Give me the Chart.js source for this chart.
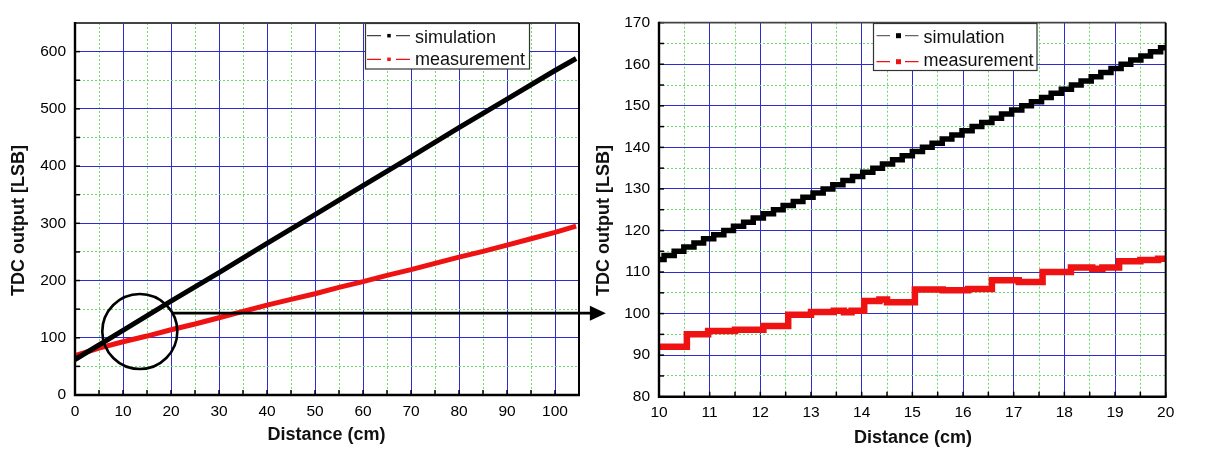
<!DOCTYPE html>
<html><head><meta charset="utf-8">
<script src="https://cdn.jsdelivr.net/npm/chart.js@4"></script>
<style>
html,body{margin:0;padding:0;background:#fff;width:1205px;height:451px;overflow:hidden}
#c1{position:absolute;left:0;top:0}
#c2{position:absolute;left:580px;top:0}
</style></head><body>
<canvas id="c1" width="620" height="451"></canvas>
<canvas id="c2" width="625" height="451"></canvas>
<script>
// ---------------- data ----------------
const seriesNames = ['simulation', 'measurement'];
const xTitle = 'Distance (cm)';
const yTitle = 'TDC output [LSB]';

// full range (left panel)
const simFullX  = [0, 10, 20, 30, 40, 50, 60, 70, 80, 90, 100, 104.4];
const simFullY  = [62, 113, 164, 214, 265, 315, 366, 416, 467, 517, 567, 588];
const measFullX = [0, 5, 10, 15, 20, 25, 30, 35, 40, 45, 50, 55, 60, 65, 70, 75, 80, 85, 90, 95, 100, 104.4];
const measFullY = [69, 82, 93, 103, 114, 124, 135, 146, 157, 167, 177, 188, 198, 209, 219, 230, 241, 251, 262, 273, 284, 295];

// zoomed range 10-20 cm (right panel), step start positions
const simZoomX = [10.00,10.10,10.30,10.49,10.69,10.88,11.08,11.28,11.47,11.67,11.86,12.06,12.26,12.45,12.65,12.84,13.04,13.24,13.43,13.63,13.82,14.02,14.22,14.41,14.61,14.80,15.00,15.20,15.39,15.59,15.78,15.98,16.18,16.37,16.57,16.76,16.96,17.16,17.35,17.55,17.74,17.94,18.14,18.33,18.53,18.72,18.92,19.12,19.31,19.51,19.70,19.90,20.00];
const simZoomY = [113,114,115,116,117,118,119,120,121,122,123,124,125,126,127,128,129,130,131,132,133,134,135,136,137,138,139,140,141,142,143,144,145,146,147,148,149,150,151,152,153,154,155,156,157,158,159,160,161,162,163,164,164];
const measZoomX = [10.00,10.55,10.97,11.50,12.06,12.55,13.00,13.45,13.65,13.80,14.05,14.35,14.50,15.05,15.60,16.10,16.57,17.10,17.57,18.13,18.55,18.75,19.08,19.50,19.85,20.00];
const measZoomY = [92.0,95.0,95.8,96.1,97.0,99.7,100.4,100.7,100.3,100.7,103.0,103.4,102.7,105.8,105.6,105.9,108.0,107.6,110.0,111.1,110.8,111.1,112.6,112.9,113.2,113.3];

// axis ranges & tick steps
const fullXRange = [0, 105], fullXStep = 5, fullXMajor = 10;
const fullYRange = [0, 650], fullYStep = 50, fullYMajor = 100;
const zoomXRange = [10, 20], zoomXStep = 0.5, zoomXMajor = 1;
const zoomYRange = [80, 170], zoomYStep = 5, zoomYMajor = 10;

// ---------------- styles ----------------
const FONT = "'Liberation Sans', Arial, sans-serif";
const BLUE = 'rgb(45,45,205)';
const GREEN = 'rgb(110,215,110)';
const RED = 'rgb(238,18,18)';

function isMajor(v, major) {
  const r = v / major;
  return Math.abs(r - Math.round(r)) < 1e-6;
}
function axis(range, step, major, pad, fit, horizontal) {
  return {
    type: 'linear', min: range[0], max: range[1],
    ticks: {
      stepSize: step, autoSkip: false, padding: pad, maxRotation: 0, minRotation: 0,
      color: '#000', font: {family: FONT, size: 15.5},
      callback: (v) => isMajor(v, major) ? String(Math.round(v)) : ''
    },
    grid: {
      drawTicks: false, lineWidth: 1,
      color: (c) => (c.tick && isMajor(c.tick.value, major)) ? BLUE : GREEN
    },
    border: {
      display: false,
      dash: (c) => (c.tick && !isMajor(c.tick.value, major)) ? [2, 2] : []
    },
    afterFit: (s) => { if (horizontal) s.height = fit; else s.width = fit; }
  };
}
function pts(xs, ys) { return xs.map((x, i) => ({x: x, y: ys[i]})); }

const decor = {
  id: 'decor',
  afterDraw(chart, args, o) {
    const ctx = chart.ctx, a = chart.chartArea;
    const sx = chart.scales.x, sy = chart.scales.y;
    ctx.save();
    // inner ticks
    ctx.strokeStyle = '#000'; ctx.lineWidth = 1.5;
    sx.ticks.forEach(t => {
      const p = sx.getPixelForValue(t.value);
      ctx.beginPath(); ctx.moveTo(p, a.bottom); ctx.lineTo(p, a.bottom - 5); ctx.stroke();
    });
    sy.ticks.forEach(t => {
      const p = sy.getPixelForValue(t.value);
      ctx.beginPath(); ctx.moveTo(a.left, p); ctx.lineTo(a.left + 5, p); ctx.stroke();
    });
    // frame
    ctx.lineWidth = 1.8; ctx.strokeStyle = '#444';
    ctx.beginPath(); ctx.moveTo(a.left, a.top); ctx.lineTo(a.right, a.top); ctx.stroke();
    ctx.strokeStyle = '#000'; ctx.lineWidth = 2;
    ctx.beginPath(); ctx.moveTo(a.right, a.top); ctx.lineTo(a.right, a.bottom); ctx.stroke();
    ctx.lineWidth = 2.4;
    ctx.beginPath(); ctx.moveTo(a.left, a.top - 1); ctx.lineTo(a.left, a.bottom); ctx.lineTo(a.right + 1, a.bottom); ctx.stroke();
    // circle + arrow annotation
    if (o.circle) {
      const c = o.circle;
      ctx.strokeStyle = '#000'; ctx.lineWidth = 2.6;
      ctx.beginPath();
      ctx.arc(sx.getPixelForValue(c.cx), sy.getPixelForValue(c.cy), c.r, 0, Math.PI * 2);
      ctx.stroke();
    }
    if (o.arrow) {
      const w = o.arrow;
      const x0 = sx.getPixelForValue(w.x0), x1 = sx.getPixelForValue(w.x1), y = sy.getPixelForValue(w.y);
      ctx.strokeStyle = '#000'; ctx.fillStyle = '#000'; ctx.lineWidth = 2.6;
      ctx.beginPath(); ctx.moveTo(x0, y); ctx.lineTo(x1 - 14, y); ctx.stroke();
      ctx.beginPath(); ctx.moveTo(x1, y); ctx.lineTo(x1 - 16, y - 7.5); ctx.lineTo(x1 - 16, y + 7.5); ctx.closePath(); ctx.fill();
    }
    // legend
    if (o.legend) {
      const L = o.legend;
      ctx.fillStyle = '#fff';
      ctx.fillRect(L.x, L.y, L.w, L.h);
      ctx.strokeStyle = '#333'; ctx.lineWidth = 1.2;
      ctx.strokeRect(L.x, L.y, L.w, L.h);
      L.rows.forEach((r, i) => {
        ctx.strokeStyle = r.line; ctx.lineWidth = 1.2;
        ctx.beginPath();
        ctx.moveTo(L.x + L.seg[0], r.ly); ctx.lineTo(L.x + L.seg[1], r.ly);
        ctx.moveTo(L.x + L.seg[2], r.ly); ctx.lineTo(L.x + L.seg[3], r.ly);
        ctx.stroke();
        ctx.fillStyle = r.mark;
        ctx.fillRect(L.x + L.mx - L.ms / 2, r.ly - L.ms / 2, L.ms, L.ms);
        ctx.fillStyle = '#111';
        ctx.font = '18px ' + FONT;
        ctx.textAlign = 'left'; ctx.textBaseline = 'alphabetic';
        ctx.fillText(r.text, L.x + L.tx, r.ty);
      });
    }
    // axis titles
    ctx.fillStyle = '#111';
    ctx.font = 'bold 18px ' + FONT;
    ctx.textAlign = 'center'; ctx.textBaseline = 'alphabetic';
    ctx.fillText(xTitle, o.xt[0], o.xt[1]);
    ctx.save();
    ctx.translate(o.yt[0], o.yt[1]);
    ctx.rotate(-Math.PI / 2);
    ctx.textBaseline = 'middle';
    ctx.fillText(yTitle, 0, 0);
    ctx.restore();
    ctx.restore();
  }
};

// ---------------- left chart ----------------
new Chart(document.getElementById('c1'), {
  type: 'line',
  data: {datasets: [
    {label: seriesNames[0], data: pts(simFullX, simFullY), borderColor: '#000', borderWidth: 5, pointRadius: 0, tension: 0},
    {label: seriesNames[1], data: pts(measFullX, measFullY), borderColor: RED, borderWidth: 5, pointRadius: 0, tension: 0}
  ]},
  options: {
    responsive: false, animation: false, events: [],
    layout: {padding: {left: 0, top: 23, right: 41, bottom: 0}},
    scales: {
      x: axis(fullXRange, fullXStep, fullXMajor, 7, 56, true),
      y: axis(fullYRange, fullYStep, fullYMajor, 9, 75, false)
    },
    plugins: {
      legend: {display: false}, tooltip: {enabled: false},
      decor: {
        circle: {cx: 13.5, cy: 111, r: 37.5},
        arrow: {x0: 20.2, x1: 110.6, y: 143},
        legend: {x: 365.5, y: 23.5, w: 164, h: 45.5, seg: [1.5, 15.5, 30.5, 44.5], mx: 23.5, ms: 3.5, tx: 49.5,
          rows: [
            {text: seriesNames[0], line: '#444', mark: '#000', ly: 35.7, ty: 42.7},
            {text: seriesNames[1], line: RED, mark: RED, ly: 59.3, ty: 65}
          ]},
        xt: [326.5, 440], yt: [19.5, 220.5]
      }
    }
  },
  plugins: [decor]
});

// ---------------- right chart ----------------
new Chart(document.getElementById('c2'), {
  type: 'line',
  data: {datasets: [
    {label: seriesNames[0], data: pts(simZoomX, simZoomY), borderColor: '#000', borderWidth: 5.5, pointRadius: 0, stepped: true, borderJoinStyle: 'miter', borderCapStyle: 'butt'},
    {label: seriesNames[1], data: pts(measZoomX, measZoomY), borderColor: RED, borderWidth: 6.5, pointRadius: 0, stepped: true, borderJoinStyle: 'miter', borderCapStyle: 'butt'}
  ]},
  options: {
    responsive: false, animation: false, events: [],
    layout: {padding: {left: 0, top: 22.7, right: 39.3, bottom: 0}},
    scales: {
      x: axis(zoomXRange, zoomXStep, zoomXMajor, 7, 54.3, true),
      y: axis(zoomYRange, zoomYStep, zoomYMajor, 9, 79, false)
    },
    plugins: {
      legend: {display: false}, tooltip: {enabled: false},
      decor: {
        legend: {x: 293.5, y: 23.5, w: 163.5, h: 47, seg: [3, 16.5, 31.5, 45], mx: 25, ms: 5, tx: 50,
          rows: [
            {text: seriesNames[0], line: '#666', mark: '#000', ly: 35.7, ty: 42.7},
            {text: seriesNames[1], line: RED, mark: RED, ly: 61.7, ty: 66}
          ]},
        xt: [333, 443], yt: [24, 220.5]
      }
    }
  },
  plugins: [decor]
});
</script>
</body></html>
